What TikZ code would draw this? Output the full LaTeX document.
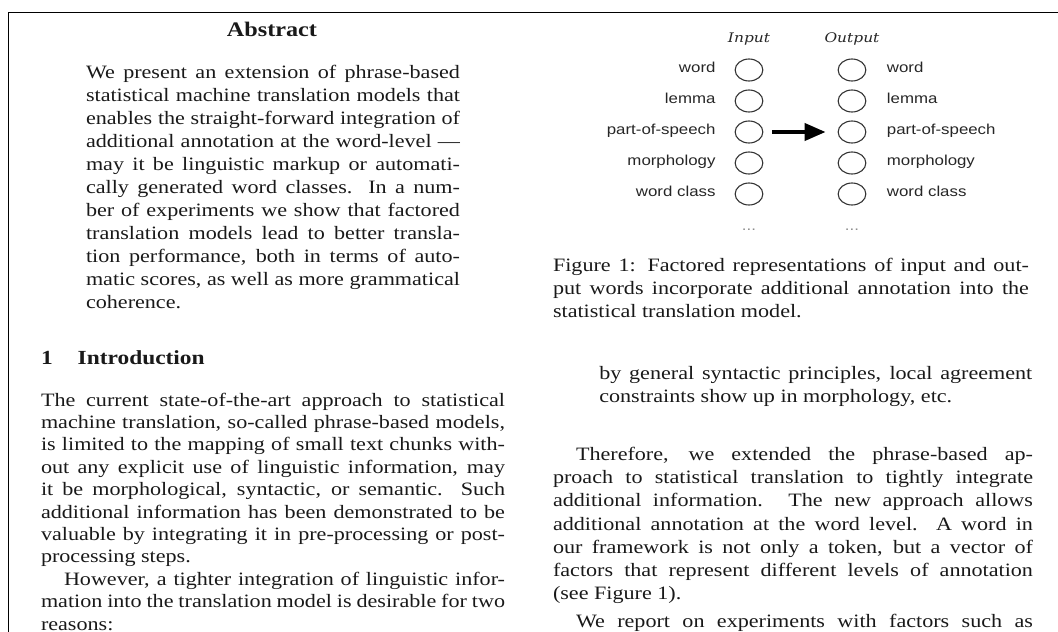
\documentclass[tikz,border=0pt]{standalone}
\usepackage{fontspec}
\setmainfont{Liberation Serif}[FakeStretch=1.17]
\newfontfamily\labsans{Liberation Sans}[FakeStretch=1.17]
\newfontfamily\figital{DejaVu Serif}[FakeStretch=1.17]
\usetikzlibrary{shapes.geometric,arrows.meta}
\hbadness=10000 \hfuzz=40pt
\newcommand\JL[1]{\hbox to\linewidth{#1}}
\newcommand\IJL[1]{\hbox to\linewidth{\hskip 23pt #1}}
\newcommand\NL[1]{\hbox{#1}}
\newcommand\INL[1]{\hbox{\hskip 23pt #1}}
\newcommand\bodyfnt[1]{\fontsize{18.9}{#1}\selectfont}
\begin{document}
\begin{tikzpicture}[x=1pt,y=-1pt,
  txt/.style={anchor=base west,inner sep=0pt,outer sep=0pt,text=black!90},
  fac/.style={ellipse,draw=black!80,line width=1.1pt,minimum width=27.7pt,minimum height=22pt,inner sep=0pt},
  lab/.style={inner sep=0pt,font=\labsans\fontsize{14.4}{16}\selectfont,text=black!85},
  hdr/.style={anchor=base,inner sep=0pt,font=\figital\itshape\fontsize{13.2}{14}\selectfont,text=black!85},
  dotsty/.style={anchor=base,inner sep=0pt,font=\labsans\fontsize{14.4}{16}\selectfont,text=black!45},
  bigarrow/.style={-{Triangle[length=21pt,width=17pt]},line width=4pt,shorten <=9pt,shorten >=12pt}
]
\useasboundingbox (0,0) rectangle (1058,632);
\coordinate (tr) at (1058,12.5);
\coordinate (tl) at (8.5,12.5);
\coordinate (bl) at (8.5,632);
\draw[line width=1.2pt] (tr) -- (tl) -- (bl);
% ---------- left column
\node[txt,anchor=base,font=\bfseries\fontsize{20.7}{24}\selectfont] (abshead) at (272,36.5) {Abstract};
\node[txt] (abs) at (86,78) {\begin{minipage}[t]{374pt}\bodyfnt{23}%
\JL{We present an extension of phrase-based}
\JL{statistical machine translation models that}
\JL{enables the straight-forward integration of}
\JL{additional annotation at the word-level —}
\JL{may it be linguistic markup or automati-}
\JL{cally generated word classes.  In a num-}
\JL{ber of experiments we show that factored}
\JL{translation models lead to better transla-}
\JL{tion performance, both in terms of auto-}
\JL{matic scores, as well as more grammatical}
\NL{coherence.}
\end{minipage}};
\node[txt,font=\bfseries\fontsize{20}{24}\selectfont] (introhead) at (41,364) {1\hspace{25pt}Introduction};
\node[txt] (intro) at (41,406) {\begin{minipage}[t]{464pt}\bodyfnt{22.4}%
\JL{The current state-of-the-art approach to statistical}
\JL{machine translation, so-called phrase-based models,}
\JL{is limited to the mapping of small text chunks with-}
\JL{out any explicit use of linguistic information, may}
\JL{it be morphological, syntactic, or semantic.  Such}
\JL{additional information has been demonstrated to be}
\JL{valuable by integrating it in pre-processing or post-}
\NL{processing steps.}
\IJL{However, a tighter integration of linguistic infor-}
\JL{mation into the translation model is desirable for two}
\NL{reasons:}
\end{minipage}};
% ---------- figure
\node[hdr] (inhead) at (749,42) {Input};
\node[hdr] (outhead) at (852,42) {Output};
\node[fac] (i1) at (749,70) {};
\node[fac] (i2) at (749,101) {};
\node[fac] (i3) at (749,132) {};
\node[fac] (i4) at (749,163) {};
\node[fac] (i5) at (749,194) {};
\node[fac] (o1) at (852,70) {};
\node[fac] (o2) at (852,101) {};
\node[fac] (o3) at (852,132) {};
\node[fac] (o4) at (852,163) {};
\node[fac] (o5) at (852,194) {};
\node[lab,anchor=mid east] (li1) at (715.7,70) {word};
\node[lab,anchor=mid east] (li2) at (715.7,101) {lemma};
\node[lab,anchor=mid east] (li3) at (715.7,132) {part-of-speech};
\node[lab,anchor=mid east] (li4) at (715.7,163) {morphology};
\node[lab,anchor=mid east] (li5) at (715.7,194) {word class};
\node[lab,anchor=mid west] (lo1) at (886.7,70) {word};
\node[lab,anchor=mid west] (lo2) at (886.7,101) {lemma};
\node[lab,anchor=mid west] (lo3) at (886.7,132) {part-of-speech};
\node[lab,anchor=mid west] (lo4) at (886.7,163) {morphology};
\node[lab,anchor=mid west] (lo5) at (886.7,194) {word class};
\node[dotsty] (idots) at (749,230) {...};
\node[dotsty] (odots) at (852,230) {...};
\draw[bigarrow] (i3) -- (o3);
% ---------- caption
\node[txt] (caption) at (553,271) {\begin{minipage}[t]{476pt}\bodyfnt{23}%
\JL{Figure 1:  Factored representations of input and out-}
\JL{put words incorporate additional annotation into the}
\NL{statistical translation model.}
\end{minipage}};
% ---------- right column
\node[txt] (item) at (599.3,379.5) {\begin{minipage}[t]{433pt}\bodyfnt{23.2}%
\JL{by general syntactic principles, local agreement}
\NL{constraints show up in morphology, etc.}
\end{minipage}};
\node[txt] (right) at (553,460.5) {\begin{minipage}[t]{480pt}\bodyfnt{23.2}%
\IJL{Therefore, we extended the phrase-based ap-}
\JL{proach to statistical translation to tightly integrate}
\JL{additional information.  The new approach allows}
\JL{additional annotation at the word level.  A word in}
\JL{our framework is not only a token, but a vector of}
\JL{factors that represent different levels of annotation}
\NL{(see Figure 1).}
\vskip 4.5pt
\IJL{We report on experiments with factors such as}
\end{minipage}};
\end{tikzpicture}
\end{document}
